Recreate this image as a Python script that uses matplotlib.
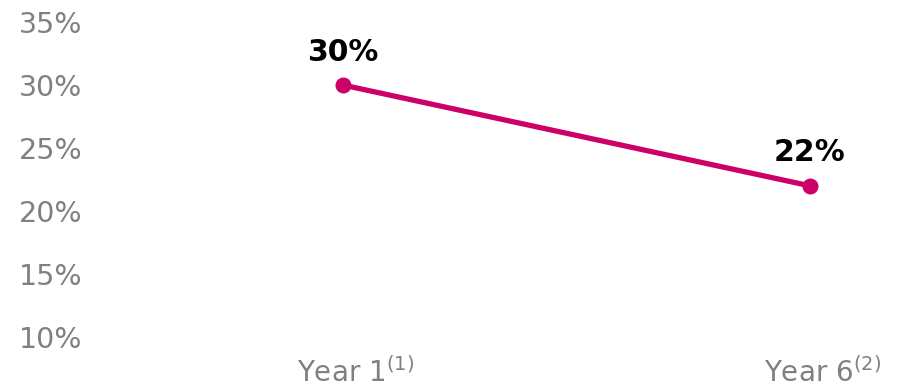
import matplotlib.pyplot as plt
import matplotlib.transforms as mtransforms

years = ['Year 1$^{(1)}$', 'Year 6$^{(2)}$']
share = [30, 22]
y_ticks = [10, 15, 20, 25, 30, 35]

line_color = '#cc0066'
tick_color = '#808080'

fig = plt.figure(figsize=(8.97, 3.89), dpi=100)
ax = fig.add_axes([0.1059, 0.1337, 0.875, 0.8097])

x = list(range(len(years)))
ax.plot(x, share, color=line_color, lw=3.8, marker='o', ms=10.5,
        solid_capstyle='round')

for xi, v in zip(x, share):
    ax.annotate('{}%'.format(v), (xi, v), xytext=(0, 17.5), textcoords='offset points',
                ha='center', va='baseline', fontsize=21.5, fontweight='bold', color='black')

ax.set_xlim(-0.531, 1.15)
ax.set_ylim(10, 35)
ax.set_xticks(x)
ax.set_xticklabels(years)
ax.set_yticks(y_ticks)
ax.set_yticklabels(['{}%'.format(t) for t in y_ticks])

ax.tick_params(axis='both', length=0, colors=tick_color)
ax.tick_params(axis='y', pad=9, labelsize=20.5)
ax.tick_params(axis='x', pad=15, labelsize=20)

# nudge year labels so the base text sits under the points
shift = mtransforms.ScaledTranslation(13 / 100, 0, fig.dpi_scale_trans)
for lbl in ax.get_xticklabels():
    lbl.set_transform(lbl.get_transform() + shift)

for s in ax.spines.values():
    s.set_visible(False)

fig.savefig('out.png', dpi=100)
